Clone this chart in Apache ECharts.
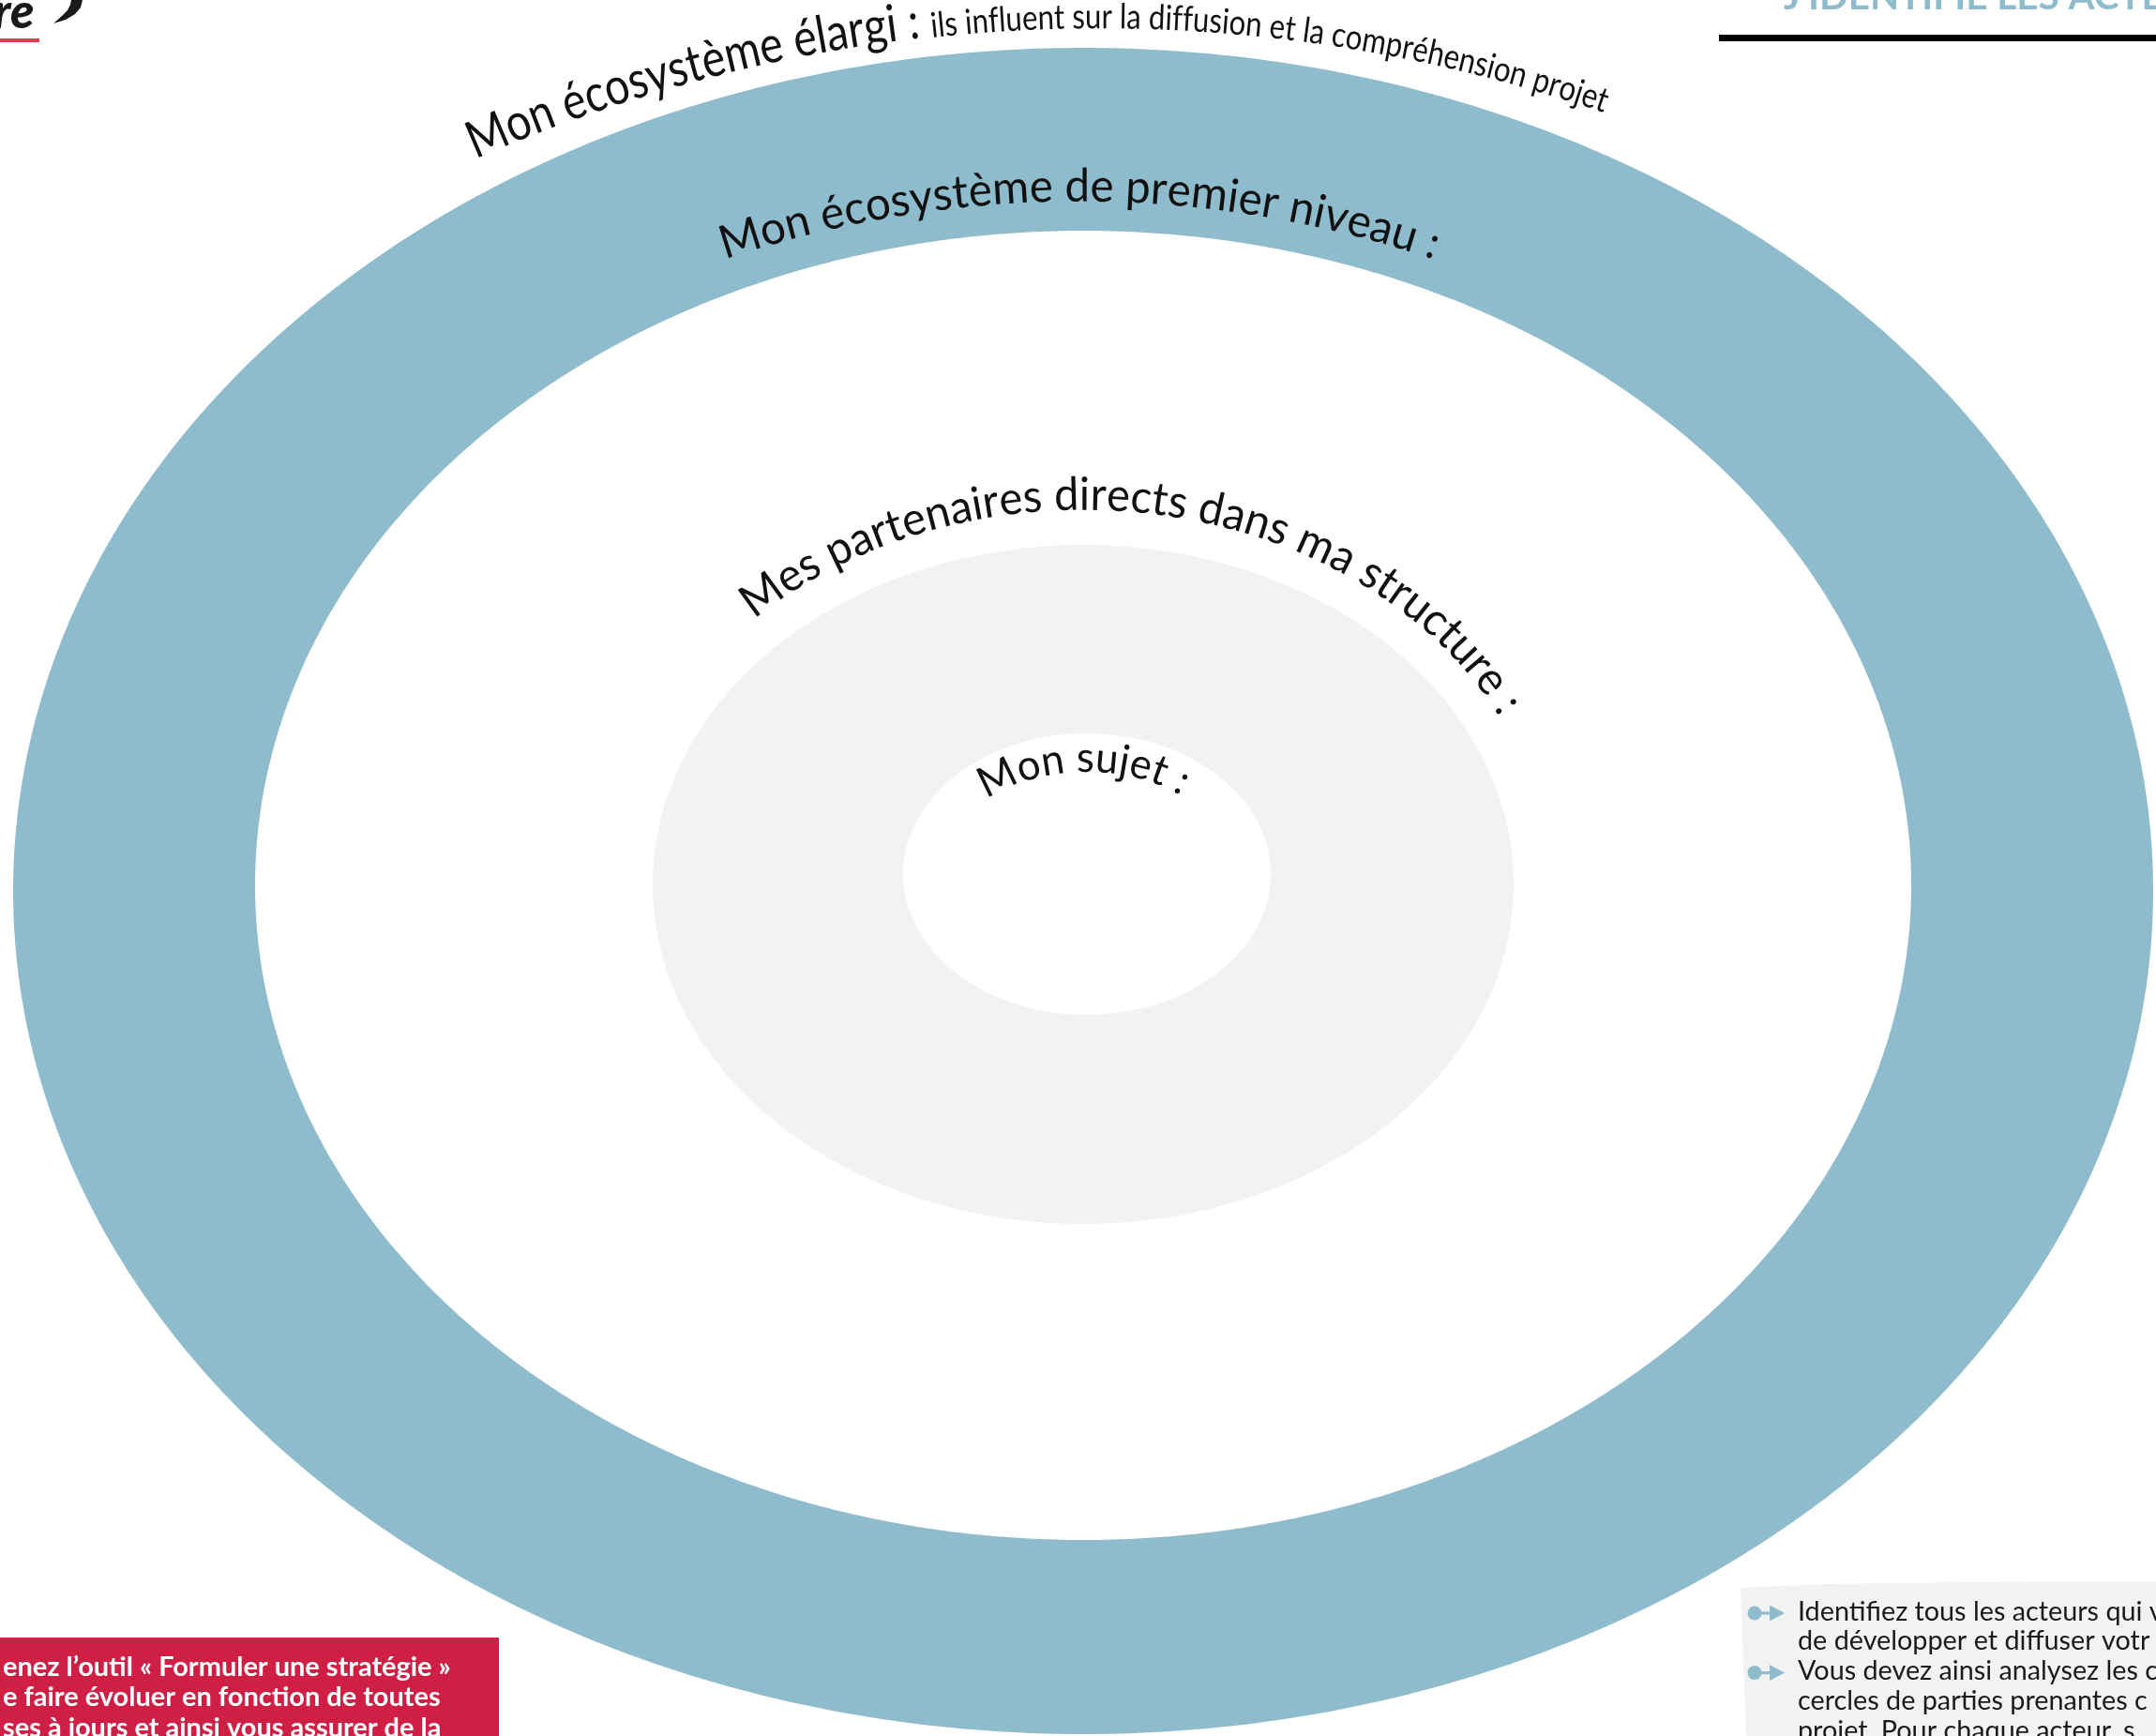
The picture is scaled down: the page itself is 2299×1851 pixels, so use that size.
<!DOCTYPE html>
<html><head><meta charset="utf-8">
<style>html,body{margin:0;padding:0;background:#fff;overflow:hidden}#c{width:2299px;height:1851px}</style>
<script src="https://cdn.jsdelivr.net/npm/echarts@6/dist/echarts.min.js"></script>
</head><body><div id="c"></div>
<script>
// ---------------- DATA ----------------
const ringNames = ['Mon écosystème élargi', 'Mon écosystème de premier niveau', 'Mes partenaires directs dans ma structure', 'Mon sujet'];
const ringRadiusX = [1141, 883, 459, 196];
const ringRadiusY = [899, 698, 362, 150];
const ringTitles = ['Mon écosystème élargi : ', 'Mon écosystème de premier niveau :', 'Mes partenaires directs dans ma structure :', 'Mon sujet :'];
const ringNotes = ['ils influent sur la diffusion et la compréhension projet', '', '', ''];
const headerTitle = "J'IDENTIFIE LES ACTE";
const tipLines = ['enez l’outil « Formuler une stratégie »', 'e faire évoluer en fonction de toutes', 'ses à jours et ainsi vous assurer de la'];
const guideLines = ['Identifiez tous les acteurs qui v', 'de développer et diffuser votr', 'Vous devez ainsi analysez les c', 'cercles de parties prenantes c', 'projet. Pour chaque acteur, s'];
const guideBullets = [0, 2];

// ---------------- LAYOUT / STYLE ----------------
const W = 2299, H = 1851;
const FONT = 'Lato';
const ringFill = ['#8FBCCD', '#FFFFFF', '#F2F2F2', '#FFFFFF'];
const ringCenter = [[1155, 950], [1155, 944], [1155, 943], [1159, 932]];
const arcLayout = [
  {cx: 1173, cy: 1680, rx: 1648, ry: 1648, t0: -23.8, t1: 19.0, fs: 55, fsNote: 37},
  {cx: 1151, cy: 1400, rx: 1183, ry: 1183, t0: -18.6, t1: 18.6, fs: 49},
  {cx: 1155, cy: 943, rx: 494, ry: 397, t0: -45.0, t1: 63.5, fs: 49},
  {cx: 1159, cy: 932, rx: 154, ry: 107, t0: -43.5, t1: 40, fs: 45}
];
const MID = 0.37; // em-middle above baseline

const cnv = document.createElement('canvas').getContext('2d');
function measure(txt, fs, weight) {
  cnv.font = (weight || 'normal') + ' ' + fs + 'px ' + FONT;
  return cnv.measureText(txt).width;
}
function fitSize(txt, weight, target) { return 100 * target / measure(txt, 100, weight); }

function renderRing(params, api) {
  const i = params.dataIndex;
  const c = ringCenter[i], rx = ringRadiusX[i], ry = ringRadiusY[i];
  const pts = [];
  for (let k = 0; k < 720; k++) {
    const a = k / 720 * Math.PI * 2;
    pts.push(api.coord([c[0] + rx * Math.cos(a), c[1] + ry * Math.sin(a)]));
  }
  return {type: 'polygon', shape: {points: pts}, style: {fill: ringFill[i]}};
}

function renderLabel(params, api) {
  const i = params.dataIndex;
  const L = arcLayout[i];
  const N = 2000, pts = [], cum = [0];
  for (let k = 0; k <= N; k++) {
    const t = (L.t0 + (L.t1 - L.t0) * k / N) * Math.PI / 180;
    const p = api.coord([L.cx + L.rx * Math.sin(t), L.cy - L.ry * Math.cos(t)]);
    pts.push(p);
    if (k > 0) cum.push(cum[k - 1] + Math.hypot(p[0] - pts[k - 1][0], p[1] - pts[k - 1][1]));
  }
  const total = cum[N];
  const segs = [{text: ringTitles[i], fs: L.fs}];
  if (ringNotes[i]) segs.push({text: ringNotes[i], fs: L.fsNote});
  const chars = []; let Wn = 0;
  segs.forEach(s => { for (const ch of s.text) { const w = measure(ch, s.fs); chars.push({ch, fs: s.fs, w}); Wn += w; } });
  const sc = total / Wn;
  let acc = 0, j = 0; const children = [];
  chars.forEach(c => {
    const s = (acc + c.w / 2) * sc; acc += c.w;
    while (j < N - 1 && cum[j + 1] < s) j++;
    const f = (s - cum[j]) / ((cum[j + 1] - cum[j]) || 1);
    const x = pts[j][0] + (pts[j + 1][0] - pts[j][0]) * f;
    const y = pts[j][1] + (pts[j + 1][1] - pts[j][1]) * f;
    const ang = Math.atan2(pts[j + 1][1] - pts[j][1], pts[j + 1][0] - pts[j][0]);
    if (c.ch === ' ') return;
    children.push({type: 'text', x: x, y: y, rotation: -ang, scaleX: sc,
      style: {text: c.ch, x: 0, y: -MID * c.fs, fontSize: c.fs, fontFamily: FONT, fill: '#111111', align: 'center', verticalAlign: 'middle'}});
  });
  return {type: 'group', children: children};
}

// static page decorations
const graphics = [];
// logo fragment
graphics.push({type: 'text', x: -7, y: 32 - MID * 52, style: {text: 're', fontSize: 52, fontWeight: 900, fontStyle: 'italic', fontFamily: FONT, fill: '#1a1a1a', verticalAlign: 'middle'}});
graphics.push({type: 'polygon', shape: {points: [[88, 0], [86, 8], [80, 15], [70, 21], [57, 25], [66, 17], [72, 11], [75, 5], [76, 0]]}, style: {fill: '#1a1a1a'}});
graphics.push({type: 'rect', shape: {x: 0, y: 41, width: 42, height: 4}, style: {fill: '#E63950'}});
// header
const titleFs = fitSize(headerTitle, 'bold', 405);
graphics.push({type: 'text', x: 1902, y: 12 - MID * titleFs, style: {text: headerTitle, fontSize: titleFs, fontWeight: 'bold', fontFamily: FONT, fill: '#8FBCCD', verticalAlign: 'middle'}});
graphics.push({type: 'rect', shape: {x: 1833, y: 37, width: 470, height: 7}, style: {fill: '#000000'}});
// red tip box
graphics.push({type: 'rect', shape: {x: 0, y: 1746, width: 532, height: 110}, style: {fill: '#D01F44'}});
const tipFs = fitSize(tipLines[0], 'bold', 478);
tipLines.forEach((t, k) => graphics.push({type: 'text', x: 3, y: 1788 + k * 32.5 - MID * tipFs, style: {text: t, fontSize: tipFs, fontWeight: 'bold', fontFamily: FONT, fill: '#FFFFFF', verticalAlign: 'middle'}}));
// grey guide box
graphics.push({type: 'polygon', shape: {points: [[1856, 1693], [1950, 1689], [2100, 1687], [2300, 1686], [2300, 1852], [1862, 1852]]}, style: {fill: '#F2F2F2'}});
const guideFs = fitSize(guideLines[0], 'normal', 390);
guideLines.forEach((t, k) => graphics.push({type: 'text', x: 1917, y: 1729 + k * 31.8 - MID * guideFs, style: {text: t, fontSize: guideFs, fontFamily: FONT, fill: '#1a1a1a', verticalAlign: 'middle'}}));
guideBullets.forEach(k => {
  const y = 1720 + k * 31.8;
  graphics.push({type: 'line', shape: {x1: 1871, y1: y, x2: 1892, y2: y}, style: {stroke: '#8FBCCD', lineWidth: 3}});
  graphics.push({type: 'circle', shape: {cx: 1871, cy: y, r: 7.5}, style: {fill: '#8FBCCD'}});
  graphics.push({type: 'polygon', shape: {points: [[1887, y - 8.5], [1903, y], [1887, y + 8.5]]}, style: {fill: '#8FBCCD'}});
});
graphics.forEach(g => g.z = 100);

const chart = echarts.init(document.getElementById('c'), null, {renderer: 'canvas'});
chart.setOption({
  animation: false,
  backgroundColor: '#ffffff',
  grid: {left: 0, right: 0, top: 0, bottom: 0},
  xAxis: {type: 'value', min: 0, max: W, show: false},
  yAxis: {type: 'value', min: 0, max: H, inverse: true, show: false},
  graphic: graphics,
  series: [
    {type: 'custom', name: 'Cercles', renderItem: renderRing, data: ringNames.map((n, i) => ({name: n, value: [i, i]})), silent: true, z: 1},
    {type: 'custom', name: 'Libellés', renderItem: renderLabel, data: ringNames.map((n, i) => ({name: n, value: [i, i]})), silent: true, z: 5}
  ]
});
</script></body></html>
